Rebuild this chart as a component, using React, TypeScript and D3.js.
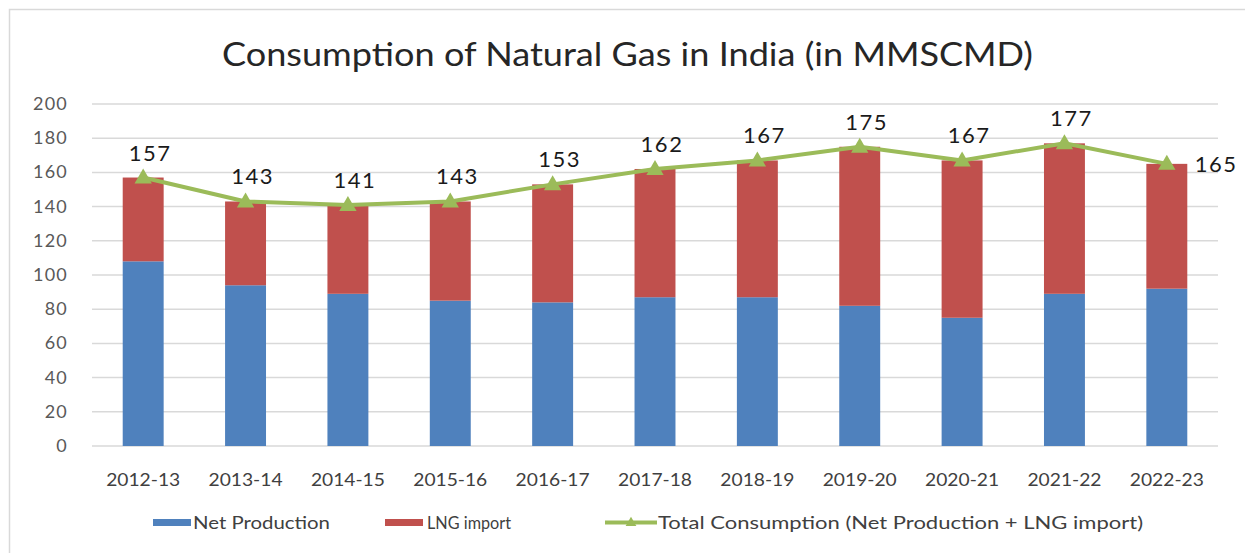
import React, { useEffect, useRef } from 'react';
import * as d3 from 'd3';

// values (MMSCMD)
const years = ['2012-13', '2013-14', '2014-15', '2015-16', '2016-17', '2017-18', '2018-19', '2019-20', '2020-21', '2021-22', '2022-23'];
const netProduction = [108, 94, 89, 85, 84, 87, 87, 82, 75, 89, 92];
const totalConsumption = [157, 143, 141, 143, 153, 162, 167, 175, 167, 177, 165];
const lngImport = totalConsumption.map((t, i) => t - netProduction[i]);
const yTicks = [0, 20, 40, 60, 80, 100, 120, 140, 160, 180, 200];

const BLUE = '#4F81BD';
const RED = '#C0504D';
const GREEN = '#9BBB59';
const FONT = 'Lato, "Open Sans", sans-serif';

const App = () => {
  const ref = useRef<SVGSVGElement | null>(null);

  useEffect(() => {
    if (!ref.current) return;
    const W = 1245, H = 553;
    const left = 92, right = 1218, top = 104, bottom = 446;

    const svg = d3.select(ref.current);
    svg.selectAll('*').remove();
    svg.attr('width', W).attr('height', H);

    svg.append('rect')
      .attr('width', W).attr('height', H).attr('fill', '#fff');
    // chart border
    svg.append('rect')
      .attr('x', 9.5).attr('y', 9.5)
      .attr('width', W + 20).attr('height', H + 20)
      .attr('fill', 'none').attr('stroke', '#D9D9D9').attr('stroke-width', 1.5);

    const x = d3.scaleBand<string>()
      .domain(years)
      .range([left, right])
      .paddingInner(0.6)
      .paddingOuter(0.3);

    const y = d3.scaleLinear().domain([0, 200]).range([bottom, top]);

    // gridlines
    svg.append('g')
      .selectAll('line')
      .data(yTicks)
      .join('line')
      .attr('x1', left).attr('x2', right)
      .attr('y1', d => y(d)).attr('y2', d => y(d))
      .attr('stroke', '#D9D9D9').attr('stroke-width', 1.5);

    // y labels
    svg.append('g')
      .selectAll('text')
      .data(yTicks)
      .join('text')
      .attr('x', 68).attr('y', d => y(d) + 6)
      .attr('text-anchor', 'end')
      .attr('font-family', FONT).attr('font-size', 18)
      .attr('letter-spacing', 1.2)
      .attr('fill', '#595959')
      .text(d => d);

    // stacked bars
    const bw = x.bandwidth();
    svg.append('g')
      .selectAll('rect')
      .data(years)
      .join('rect')
      .attr('x', d => x(d)!)
      .attr('width', bw)
      .attr('y', (d, i) => y(netProduction[i]))
      .attr('height', (d, i) => y(0) - y(netProduction[i]))
      .attr('fill', BLUE);

    svg.append('g')
      .selectAll('rect')
      .data(years)
      .join('rect')
      .attr('x', d => x(d)!)
      .attr('width', bw)
      .attr('y', (d, i) => y(netProduction[i] + lngImport[i]))
      .attr('height', (d, i) => y(netProduction[i]) - y(netProduction[i] + lngImport[i]))
      .attr('fill', RED);

    // x labels
    svg.append('g')
      .selectAll('text')
      .data(years)
      .join('text')
      .attr('x', d => x(d)! + bw / 2 - 37)
      .attr('y', 486)
      .attr('textLength', 74)
      .attr('lengthAdjust', 'spacingAndGlyphs')
      .attr('font-family', FONT).attr('font-size', 18)
      .attr('fill', '#404040')
      .text(d => d);

    // total line
    const cx = (i: number) => x(years[i])! + bw / 2;
    const line = d3.line<number>()
      .x((d, i) => cx(i))
      .y(d => y(d));
    svg.append('path')
      .datum(totalConsumption)
      .attr('fill', 'none')
      .attr('stroke', GREEN)
      .attr('stroke-width', 4)
      .attr('stroke-linejoin', 'round')
      .attr('d', line);

    const tri = d3.symbol().type(d3.symbolTriangle).size(130);
    svg.append('g')
      .selectAll('path')
      .data(totalConsumption)
      .join('path')
      .attr('transform', (d, i) => `translate(${cx(i)},${y(d) + 1})`)
      .attr('d', tri)
      .attr('fill', GREEN);

    // data labels
    svg.append('g')
      .selectAll('text')
      .data(totalConsumption)
      .join('text')
      .attr('x', (d, i) => i === years.length - 1 ? cx(i) + 28 : cx(i) + 7)
      .attr('y', (d, i) => i === years.length - 1 ? y(d) + 8 : y(d) - 17)
      .attr('text-anchor', (d, i) => i === years.length - 1 ? 'start' : 'middle')
      .attr('font-family', FONT).attr('font-size', 22)
      .attr('letter-spacing', 1.5)
      .attr('fill', '#1a1a1a')
      .text(d => d);

    // title
    svg.append('text')
      .attr('x', 222).attr('y', 66)
      .attr('textLength', 811)
      .attr('lengthAdjust', 'spacingAndGlyphs')
      .attr('font-family', FONT).attr('font-size', 32)
      .attr('fill', '#262626')
      .text('Consumption of Natural Gas in India (in MMSCMD)');

    // legend
    const lg = svg.append('g').attr('font-family', FONT).attr('font-size', 17).attr('fill', '#404040');
    lg.append('rect').attr('x', 153).attr('y', 519).attr('width', 38).attr('height', 7).attr('fill', BLUE);
    lg.append('text').attr('x', 193).attr('y', 529)
      .attr('textLength', 137).attr('lengthAdjust', 'spacingAndGlyphs').text('Net Production');
    lg.append('rect').attr('x', 385).attr('y', 519).attr('width', 38).attr('height', 7).attr('fill', RED);
    lg.append('text').attr('x', 427).attr('y', 529)
      .attr('textLength', 84).attr('lengthAdjust', 'spacingAndGlyphs').text('LNG import');
    lg.append('line').attr('x1', 605).attr('x2', 657).attr('y1', 522.5).attr('y2', 522.5)
      .attr('stroke', GREEN).attr('stroke-width', 4);
    lg.append('path').attr('transform', 'translate(631,523)').attr('d', d3.symbol().type(d3.symbolTriangle).size(50)).attr('fill', GREEN);
    lg.append('text').attr('x', 658).attr('y', 529)
      .attr('textLength', 485).attr('lengthAdjust', 'spacingAndGlyphs')
      .text('Total Consumption (Net Production + LNG import)');
  }, []);

  return (
    <svg ref={ref} style={{ position: 'absolute', left: 0, top: 0, display: 'block' }} />
  );
};

export default App;
